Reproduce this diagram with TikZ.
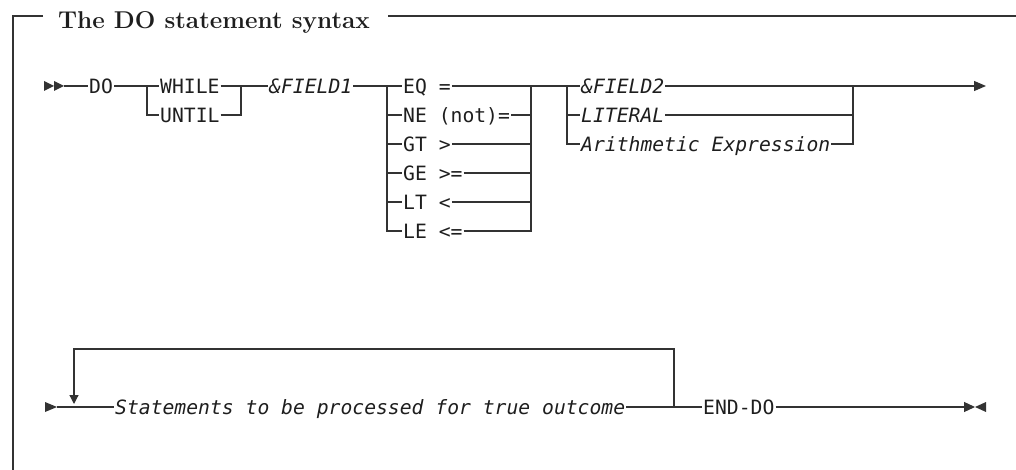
\documentclass[tikz,border=0pt]{standalone}
\usepackage{fontspec}
\setmonofont{DejaVu Sans Mono}
\usetikzlibrary{arrows.meta}
\definecolor{linec}{HTML}{333333}
\definecolor{txtc}{HTML}{1E1E1E}
\begin{document}
\begin{tikzpicture}[x=1pt,y=-1pt,
  rail/.style={draw=linec, line width=1.2pt},
  frame/.style={draw=linec, line width=1.3pt},
  kw/.style={anchor=west, inner xsep=1pt, inner ysep=0pt, text height=14.4pt, text depth=0pt,
    font=\ttfamily\fontsize{19.7}{24}\selectfont, text=txtc},
  var/.style={kw, font=\ttfamily\itshape\fontsize{19.7}{24}\selectfont},
  tip/.style={fill=linec},
]
\useasboundingbox (0,0) rectangle (1016,470);
% frame and title
\node[anchor=base west, inner sep=0pt, font=\bfseries\fontsize{24.3}{28}\selectfont, text=txtc] (title) at (58,28.5) {The DO statement syntax};
\draw[frame] (43,16) -- (13,16) -- (13,472);
\draw[frame] (388,16) -- (1018,16);

% ---------- first line ----------
\coordinate (s1) at (64,86);
\fill[tip] (44,81) -- (54,86) -- (44,91) -- cycle;
\fill[tip] (54,81) -- (64,86) -- (54,91) -- cycle;
\node[kw] (do) at (88,86) {DO};
\coordinate (j1) at (147,86);
\node[kw] (while) at (159,86) {WHILE};
\node[kw] (until) at (159,115) {UNTIL};
\coordinate (j2) at (241,86);
\node[var] (f1) at (268,86) {\&FIELD1};
\coordinate (j3) at (387,86);
\node[kw] (eq) at (402,86) {EQ =};
\node[kw] (ne) at (402,115) {NE (not)=};
\node[kw] (gt) at (402,144) {GT >};
\node[kw] (ge) at (402,173) {GE >=};
\node[kw] (lt) at (402,202) {LT <};
\node[kw] (le) at (402,231) {LE <=};
\coordinate (j4) at (531,86);
\coordinate (j5) at (567,86);
\node[var] (f2) at (580,86) {\&FIELD2};
\node[var] (lit) at (580,115) {LITERAL};
\node[var] (ae) at (580,144) {Arithmetic Expression};
\coordinate (j6) at (853,86);
\coordinate (e1) at (986,86);

\draw[rail] (s1) -- (do.west);
\draw[rail] (do.east) -- (j1) -- (while.west);
\draw[rail] (j1) |- (until.west);
\draw[rail] (while.east) -- (j2);
\draw[rail] (until.east) -| (j2);
\draw[rail] (j2) -- (f1.west);
\draw[rail] (f1.east) -- (j3) -- (eq.west);
\foreach \n in {ne,gt,ge,lt,le}{\draw[rail] (j3) |- (\n.west);}
\draw[rail] (eq.east) -- (j4);
\foreach \n in {ne,gt,ge,lt}{\draw[rail] (\n.east) -- (\n.east -| j4);}
\draw[rail] (le.east) -| (j4);
\draw[rail] (j4) -- (j5) -- (f2.west);
\draw[rail] (j5) |- (lit.west);
\draw[rail] (j5) |- (ae.west);
\draw[rail] (f2.east) -- (j6);
\draw[rail] (lit.east) -- (lit.east -| j6);
\draw[rail] (ae.east) -| (j6);
\draw[rail, -{Triangle[length=12pt,width=10pt]}] (j6) -- (e1);

% ---------- second line ----------
\coordinate (s2) at (57,407);
\fill[tip] (45,402) -- (57,407) -- (45,412) -- cycle;
\node[var] (stm) at (114,407) {Statements to be processed for true outcome};
\coordinate (lp) at (674,407);
\coordinate (lpt) at (674,349);
\coordinate (lpl) at (74,349);
\coordinate (lpe) at (74,404);
\node[kw] (enddo) at (702,407) {END-DO};
\coordinate (e2) at (975,407);

\draw[rail] (s2) -- (stm.west);
\draw[rail] (stm.east) -- (lp) -- (enddo.west);
\draw[rail, -{Triangle[length=9pt,width=9pt]}] (lp) -- (lpt) -- (lpl) -- (lpe);
\draw[rail, -{Triangle[length=11pt,width=10pt]}] (enddo.east) -- (e2);
\fill[tip] (986,402) -- (975,407) -- (986,412) -- cycle;
\end{tikzpicture}
\end{document}
